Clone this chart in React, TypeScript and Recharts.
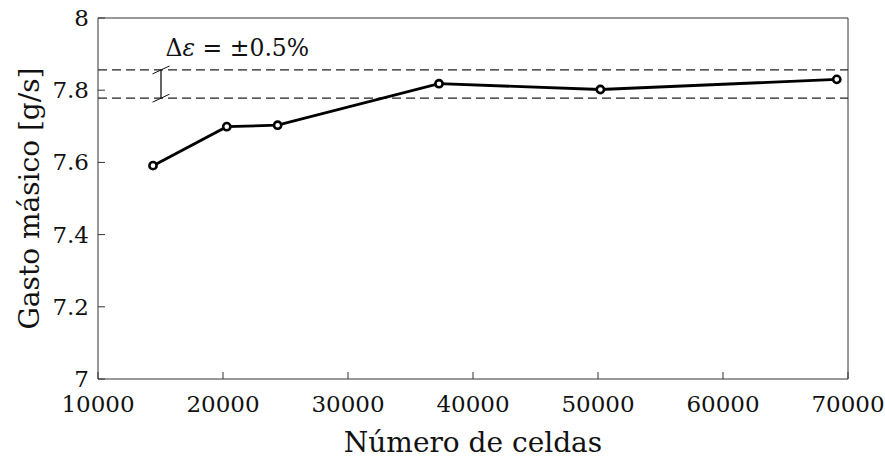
import React from 'react';
import { LineChart, Line, XAxis, YAxis, ReferenceLine, ReferenceDot } from 'recharts';

// mesh independence study: mass flow vs number of cells
const cellCounts = [14400, 20300, 24370, 37280, 50190, 69100];
const massFlow = [7.591, 7.699, 7.703, 7.818, 7.802, 7.83];

const xTicks = [10000, 20000, 30000, 40000, 50000, 60000, 70000];
const yTicks = [7, 7.2, 7.4, 7.6, 7.8, 8];

// +-0.5% band around the converged value
const bandCenter = 7.817;
const bandLow = bandCenter * 0.995;
const bandHigh = bandCenter * 1.005;
const bracketX = 15040;

const AXIS = '#333333';
const FONT = '"DejaVu Serif"';
const txt = { fontFamily: FONT };

const data = cellCounts.map((c, i) => ({ cells: c, flow: massFlow[i] }));

const BottomTick = (props: any) => {
  const { x, y, payload } = props;
  return (
    <g>
      <line x1={x} y1={y} x2={x} y2={y - 7} stroke={AXIS} />
      <text x={x} y={y + 33} textAnchor="middle" fontSize={23} style={txt} fill="#111">
        {payload.value}
      </text>
    </g>
  );
};

const TopTick = (props: any) => {
  const { x, y } = props;
  return <line x1={x} y1={y} x2={x} y2={y + 7} stroke={AXIS} />;
};

const LeftTick = (props: any) => {
  const { x, y, payload } = props;
  return (
    <g>
      <line x1={x} y1={y} x2={x + 7} y2={y} stroke={AXIS} />
      <text x={x - 9} y={y + 8} textAnchor="end" fontSize={23} style={txt} fill="#111">
        {payload.value}
      </text>
    </g>
  );
};

const RightTick = (props: any) => {
  const { x, y } = props;
  return <line x1={x} y1={y} x2={x - 7} y2={y} stroke={AXIS} />;
};

export default function App() {
  return (
    <div style={{ position: 'absolute', left: 0, top: 0, background: '#fff', fontFamily: FONT }}>
      <LineChart width={885} height={458} data={data} margin={{ top: 17, right: 36, bottom: 0, left: 0 }} style={txt}>
        <XAxis
          xAxisId="bottom"
          dataKey="cells"
          type="number"
          domain={[10000, 70000]}
          ticks={xTicks}
          height={79}
          tickSize={0}
          tickMargin={0}
          tickLine={false}
          axisLine={{ stroke: AXIS }}
          tick={<BottomTick />}
          interval={0}
          label={{
            value: 'Número de celdas',
            content: ({ viewBox }: any) => (
              <text x={viewBox.x + viewBox.width / 2} y={viewBox.y + 73} textAnchor="middle" fontSize={28} style={txt} fill="#111">
                Número de celdas
              </text>
            ),
          }}
        />
        <XAxis
          xAxisId="top"
          orientation="top"
          type="number"
          domain={[10000, 70000]}
          ticks={xTicks}
          height={1}
          tickSize={0}
          tickMargin={0}
          tickLine={false}
          axisLine={{ stroke: AXIS }}
          tick={<TopTick />}
          interval={0}
        />
        <YAxis
          yAxisId="left"
          type="number"
          domain={[7, 8]}
          ticks={yTicks}
          width={98}
          tickSize={0}
          tickMargin={0}
          tickLine={false}
          axisLine={{ stroke: AXIS }}
          tick={<LeftTick />}
          interval={0}
          label={{
            value: 'Gasto másico [g/s]',
            content: ({ viewBox }: any) => {
              const cx = viewBox.x + 29;
              const cy = viewBox.y + viewBox.height / 2;
              return (
                <text x={cx} y={cy} transform={`rotate(-90, ${cx}, ${cy})`} textAnchor="middle" dominantBaseline="central" fontSize={28} style={txt} fill="#111">
                  Gasto másico [g/s]
                </text>
              );
            },
          }}
        />
        <YAxis
          yAxisId="right"
          orientation="right"
          type="number"
          domain={[7, 8]}
          ticks={yTicks}
          width={1}
          tickSize={0}
          tickMargin={0}
          tickLine={false}
          axisLine={{ stroke: AXIS }}
          tick={<RightTick />}
          interval={0}
        />
        <ReferenceLine xAxisId="bottom" yAxisId="left" y={bandHigh} stroke="#222" strokeWidth={1.3} strokeDasharray="9 5" />
        <ReferenceLine xAxisId="bottom" yAxisId="left" y={bandLow} stroke="#222" strokeWidth={1.3} strokeDasharray="9 5" />
        <ReferenceLine
          xAxisId="bottom"
          yAxisId="left"
          segment={[{ x: bracketX, y: bandLow }, { x: bracketX, y: bandHigh }]}
          stroke="#111"
          strokeWidth={1.3}
        />
        <ReferenceLine
          xAxisId="bottom"
          yAxisId="left"
          segment={[{ x: bracketX - 680, y: bandHigh - 0.011 }, { x: bracketX + 680, y: bandHigh + 0.011 }]}
          stroke="#111"
          strokeWidth={1}
        />
        <ReferenceLine
          xAxisId="bottom"
          yAxisId="left"
          segment={[{ x: bracketX - 680, y: bandLow - 0.011 }, { x: bracketX + 680, y: bandLow + 0.011 }]}
          stroke="#111"
          strokeWidth={1}
        />
        <ReferenceDot
          xAxisId="bottom"
          yAxisId="left"
          x={15400}
          y={7.9}
          r={0}
          stroke="none"
          label={{
            value: 'Δε = ±0.5%',
            content: ({ viewBox }: any) => (
              <text x={viewBox.x} y={viewBox.y + 2} fontSize={23.5} style={txt} fill="#111">
                Δ<tspan fontStyle="italic">ε</tspan> = ±0.5%
              </text>
            ),
          }}
        />
        <Line
          xAxisId="bottom"
          yAxisId="left"
          dataKey="flow"
          type="linear"
          stroke="#000"
          strokeWidth={2.8}
          dot={{ r: 3.6, fill: '#fff', stroke: '#000', strokeWidth: 2.6 }}
          isAnimationActive={false}
        />
      </LineChart>
    </div>
  );
}
